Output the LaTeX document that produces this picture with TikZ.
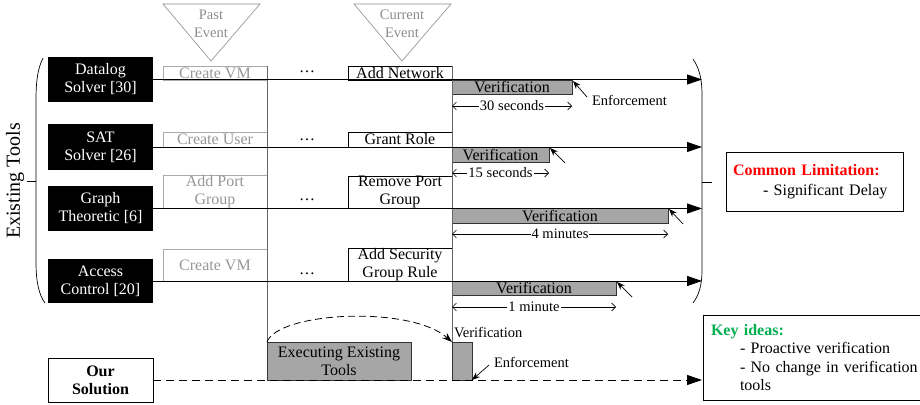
\documentclass[tikz,border=0pt]{standalone}
\usepackage{fontspec}
\setmainfont{Liberation Serif}
\usetikzlibrary{arrows.meta}
\definecolor{vgray}{RGB}{166,166,166}
\definecolor{pastc}{RGB}{150,150,150}
\definecolor{pastb}{RGB}{170,170,170}
\definecolor{trig}{RGB}{140,140,140}
\definecolor{keygreen}{RGB}{0,176,80}
\definecolor{limred}{RGB}{255,0,0}
\begin{document}
\begin{tikzpicture}[x=1pt,y=-1pt,
  every node/.style={inner sep=0pt, outer sep=0pt},
  bigf/.style={font=\fontsize{16}{18}\selectfont},
  smallf/.style={font=\fontsize{14.5}{18}\selectfont},
  toolbox/.style={fill=black, text=white, bigf, align=center, minimum width=105pt},
  pastbox/.style={draw=pastb, text=pastc, bigf, align=center, minimum width=104pt, line width=0.6pt},
  curbox/.style={draw=black, text=black, bigf, align=center, minimum width=104pt, line width=0.6pt},
  verbox/.style={draw=black!80, fill=vgray, font=\fontsize{16}{18}\selectfont, line width=0.6pt},
  tline/.style={draw=black, line width=0.9pt, -{Triangle[length=15pt,width=10pt]}},
  vline/.style={draw=black!60, line width=0.6pt},
  enf/.style={draw=black, line width=0.7pt, -{Stealth[length=8pt,width=6pt]}},
  dim/.style={draw=black, line width=0.6pt, {Straight Barb[length=4pt,width=8pt]}-{Straight Barb[length=4pt,width=8pt]}},
  dimlab/.style={fill=white, smallf, inner xsep=1pt},
  dotsf/.style={bigf, anchor=base},
  tri/.style={draw=trig, line width=0.6pt},
  trilab/.style={text=trig, smallf, align=center},
]
\useasboundingbox (0,0) rectangle (920,404);

% brackets
\draw[line width=0.7pt] (43,58) .. controls (38,68) and (36,80) .. (36,100) -- (36,262) .. controls (36,282) and (39,295) .. (45,303);
\draw[line width=0.9pt] (27,181) -- (36,181);
\draw[line width=0.7pt] (693,59) .. controls (699,68) and (702,78) .. (702,95) -- (702,270) .. controls (702,285) and (699,295) .. (693,303);
\draw[line width=0.9pt] (702,182) -- (712,182);
\node[rotate=90, font=\fontsize{20}{22}\selectfont] (ext) at (15,181) {Existing Tools};

% triangles
\draw[tri] (163,4) -- (260,4) -- (211,61) -- cycle;
\node[trilab] (pe) at (211,24) {Past\\Event};
\draw[tri] (354,4) -- (451,4) -- (402,61) -- cycle;
\node[trilab] (ce) at (402,24) {Current\\Event};

\coordinate (rb) at (702,0);

% tool boxes
\node[toolbox, minimum height=45pt] (t1) at (100.5,79.5) {Datalog\\Solver [30]};
\node[toolbox, minimum height=46pt] (t2) at (100.5,147) {SAT\\Solver [26]};
\node[toolbox, minimum height=45pt] (t3) at (100.5,208.5) {Graph\\Theoretic [6]};
\node[toolbox, minimum height=44pt] (t4) at (100.5,281) {Access\\Control [20]};

% past events
\node[pastbox, minimum height=14pt] (p1) at (215,73) {Create VM};
\node[pastbox, minimum height=15pt] (p2) at (215,139.5) {Create User};
\node[pastbox, minimum height=32pt] (p3) at (215,192) {Add Port\\Group};
\node[pastbox, minimum height=32pt] (p4) at (215,265) {Create VM};

% current events
\node[curbox, minimum height=14pt] (c1) at (400,73) {Add Network};
\node[curbox, minimum height=15pt] (c2) at (400,139.5) {Grant Role};
\node[curbox, minimum height=32pt] (c3) at (400,192) {Remove Port\\Group};
\node[curbox, minimum height=32pt] (c4) at (400,265) {Add Security\\Group Rule};

% dots
\node[dotsf] (d1) at (307,72) {\textellipsis};
\node[dotsf] (d2) at (307,140) {\textellipsis};
\node[dotsf] (d3) at (307,200) {\textellipsis};
\node[dotsf] (d4) at (307,274) {\textellipsis};

% verification boxes
\node[verbox, minimum width=120pt, minimum height=14pt] (v1) at (512,87) {Verification};
\node[verbox, minimum width=97pt, minimum height=15pt] (v2) at (500.5,154.5) {Verification};
\node[verbox, minimum width=216pt, minimum height=15pt] (v3) at (560,215.5) {Verification};
\node[verbox, minimum width=164pt, minimum height=14pt] (v4) at (534,288) {Verification};

% our solution
\node[draw=black, line width=0.7pt, fill=white, minimum width=105pt, minimum height=44pt, align=center, font=\fontsize{16}{18}\selectfont\bfseries] (os) at (100.5,380) {Our\\Solution};
\node[draw=black!80, fill=vgray, line width=0.6pt, minimum width=144pt, minimum height=38pt, align=center, bigf] (ex) at (339,361) {Executing Existing\\Tools};
\node[draw=black!80, fill=vgray, line width=0.6pt, minimum width=20pt, minimum height=38pt] (ov) at (462,361) {};

% vertical lines
\draw[vline] (p1.north east) -- (ex.north west);
\draw[vline] (c1.north east) -- (ov.north west);

% timelines
\draw[tline] (t1.east) -- (t1.east -| rb);
\draw[tline] (t2.east) -- (t2.east -| rb);
\draw[tline] (t3.east) -- (t3.east -| rb);
\draw[tline] (t4.east) -- (t4.east -| rb);
\draw[line width=0.9pt, dash pattern=on 8pt off 5pt, -{Triangle[length=15pt,width=10pt]}] (os.east) -- (os.east -| rb);

% dimension lines
\draw[dim] ([yshift=-12pt]v1.south west) -- node[dimlab] (l1) {30 seconds} ([yshift=-12pt]v1.south east);
\draw[dim] ([yshift=-11pt]v2.south west) -- node[dimlab] (l2) {15 seconds} ([yshift=-11pt]v2.south east);
\draw[dim] ([yshift=-11pt]v3.south west) -- node[dimlab] (l3) {4 minutes} ([yshift=-11pt]v3.south east);
\draw[dim] ([yshift=-12pt]v4.south west) -- node[dimlab] (l4) {1 minute} ([yshift=-12pt]v4.south east);

% enforcement arrows
\node[smallf, anchor=west] (en1) at (592,100) {Enforcement};
\coordinate (ea1) at (587,97);
\coordinate (ea2) at (565,163);
\coordinate (ea3) at (683,224);
\coordinate (ea4) at (632,297);
\draw[enf] (ea1) -- ([shift={(1pt,-1pt)}]v1.north east);
\draw[enf] (ea2) -- ([shift={(1pt,-1pt)}]v2.north east);
\draw[enf] (ea3) -- ([shift={(1pt,-1pt)}]v3.north east);
\draw[enf] (ea4) -- ([shift={(1pt,-1pt)}]v4.north east);

% our solution labels
\node[smallf, anchor=west] (ovl) at (454,333) {Verification};
\node[smallf, anchor=west] (oen) at (494,362) {Enforcement};
\coordinate (oea) at (489,365);
\draw[enf] (oea) -- (ov.south east);
\draw[line width=0.8pt, dash pattern=on 7pt off 4pt, -{Stealth[length=10pt,width=7pt]}] (ex.north west) .. controls (278,312) and (410,305) .. (ov.north west);

% boxes on the right
\node[draw=black, line width=0.8pt, anchor=north west, minimum width=177pt, minimum height=59pt, inner xsep=7pt, text width=163pt, align=left, font=\fontsize{16}{20}\selectfont] (cl) at (726,152)
  {\textcolor{limred}{\textbf{Common Limitation:}}\\\hspace*{30pt}- Significant Delay};
\node[draw=black, line width=0.8pt, anchor=north west, minimum width=225pt, minimum height=85pt, inner xsep=8pt, text width=209pt, align=left, font=\fontsize{16}{18.5}\selectfont] (ki) at (703,315)
  {\textcolor{keygreen}{\textbf{Key ideas:}}\\\hspace*{29pt}- Proactive verification\\\hspace*{29pt}- No change in verification\\\hspace*{29pt}tools};
\end{tikzpicture}
\end{document}
